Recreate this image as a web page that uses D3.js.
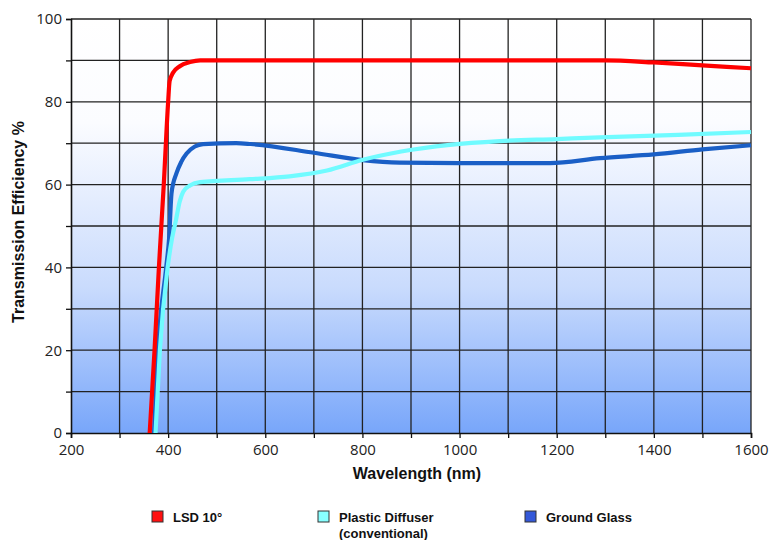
<!DOCTYPE html>
<html>
<head>
<meta charset="utf-8">
<script src="https://cdn.jsdelivr.net/npm/d3@7"></script>
<style>
  body { margin: 0; background: #fff; }
  .tick text { font-family: "Open Sans", sans-serif; font-size: 15px; fill: #222; }
  .axisTitle { font-family: "Liberation Sans", Arial, sans-serif; font-weight: bold; font-size: 16px; fill: #111; }
  .legendText { font-family: "Liberation Sans", Arial, sans-serif; font-weight: bold; font-size: 13px; fill: #111; }
</style>
</head>
<body>
<svg id="chart" width="782" height="540"></svg>
<script>

// wavelength (nm) / efficiency (%)
const lsdX = [362, 372, 381, 391, 400, 403, 410, 424, 445, 466, 500, 800, 1100, 1300, 1400, 1500, 1600]
const lsdY = [0, 20, 40, 60, 80, 85, 87, 88.6, 89.6, 90, 90, 90, 90, 90, 89.5, 88.8, 88.1]

const plasticX = [374, 383, 399, 408, 416, 424, 431, 445, 466, 568, 650, 727, 801, 880, 980, 1083, 1200, 1289, 1450, 1600]
const plasticY = [0, 20, 40, 47, 51.4, 56, 58.3, 59.8, 60.6, 61.3, 62, 63.4, 66, 68, 69.6, 70.5, 71, 71.4, 72, 72.7]

const groundX = [371, 379, 396, 402, 407, 417, 427, 438, 455, 472, 540, 570, 700, 800, 877, 1000, 1186, 1289, 1400, 1500, 1600]
const groundY = [0, 20, 40, 47, 58, 62.7, 65.5, 67.5, 69.2, 69.8, 70, 69.8, 67.7, 65.9, 65.3, 65.2, 65.2, 66.4, 67.3, 68.5, 69.5]

const xTicks = [200, 400, 600, 800, 1000, 1200, 1400, 1600]
const yTicks = [0, 20, 40, 60, 80, 100]

const series = [
  { name: "Ground Glass", xs: groundX, ys: groundY, color: "#1a5fc6" },
  { name: "Plastic Diffuser", xs: plasticX, ys: plasticY, color: "#70fbff" },
  { name: "LSD 10°", xs: lsdX, ys: lsdY, color: "#ff0000" }
]

const legendItems = [
  { label: ["LSD 10°"], fill: "#ff1010" },
  { label: ["Plastic Diffuser", "(conventional)"], fill: "#88ffff" },
  { label: ["Ground Glass"], fill: "#3458d8" }
]

const svg = d3.select("#chart")

const x = d3.scaleLinear().domain([200, 1600]).range([71, 751])
const y = d3.scaleLinear().domain([0, 100]).range([433, 19])

// background gradient
const grad = svg.append("defs")
  .append("linearGradient")
  .attr("id", "bg")
  .attr("x1", 0).attr("y1", 0).attr("x2", 0).attr("y2", 1)

grad.append("stop").attr("offset", "0").attr("stop-color", "#ffffff")
grad.append("stop").attr("offset", "0.25").attr("stop-color", "#fbfcff")
grad.append("stop").attr("offset", "0.65").attr("stop-color", "#c9dbfd")
grad.append("stop").attr("offset", "1").attr("stop-color", "#78a6fa")

svg.append("rect")
  .attr("x", x(200))
  .attr("y", y(100))
  .attr("width", x(1600) - x(200))
  .attr("height", y(0) - y(100))
  .attr("fill", "url(#bg)")

// grid
const grid = svg.append("g")

grid.selectAll(".vline")
  .data(d3.range(300, 1601, 100))
  .join("line")
  .attr("x1", d => x(d)).attr("x2", d => x(d))
  .attr("y1", y(100)).attr("y2", y(0))
  .attr("stroke", "#222")
  .attr("stroke-width", 1.3)

grid.selectAll(".hline")
  .data(d3.range(10, 101, 10))
  .join("line")
  .attr("x1", x(200)).attr("x2", x(1600))
  .attr("y1", d => y(d)).attr("y2", d => y(d))
  .attr("stroke", "#222")
  .attr("stroke-width", 1.3)

// axes
const xAxis = svg.append("g")
  .attr("transform", `translate(0,${y(0)})`)
  .call(d3.axisBottom(x).tickValues(d3.range(200, 1601, 100)).tickSize(5).tickFormat(d => xTicks.includes(d) ? d : ""))

const yAxis = svg.append("g")
  .attr("transform", `translate(${x(200)},0)`)
  .call(d3.axisLeft(y).tickValues(d3.range(0, 101, 10)).tickSize(5).tickFormat(d => yTicks.includes(d) ? d : ""))

;[xAxis, yAxis].forEach(a => {
  a.select(".domain").attr("stroke", "#111").attr("stroke-width", 1.6)
  a.selectAll(".tick line").attr("stroke", "#111").attr("stroke-width", 1.3)
})

xAxis.selectAll(".tick text").attr("dy", "0.95em")
yAxis.selectAll(".tick text").attr("dx", "-1px")

// lines
const line = d3.line()
  .x(d => x(d[0]))
  .y(d => y(d[1]))
  .curve(d3.curveMonotoneX)

series.forEach(s => {
  svg.append("path")
    .datum(s.xs.map((v, i) => [v, s.ys[i]]))
    .attr("fill", "none")
    .attr("stroke", s.color)
    .attr("stroke-width", 4.2)
    .attr("stroke-linejoin", "round")
    .attr("d", line)
})

// titles
svg.append("text")
  .attr("class", "axisTitle")
  .attr("x", 417)
  .attr("y", 479)
  .attr("text-anchor", "middle")
  .text("Wavelength (nm)")

svg.append("text")
  .attr("class", "axisTitle")
  .attr("transform", "translate(24,222) rotate(-90)")
  .attr("text-anchor", "middle")
  .text("Transmission Efficiency %")

// legend
const legendX = [152, 318, 525]

legendItems.forEach((item, i) => {
  const g = svg.append("g").attr("transform", `translate(${legendX[i]},511)`)

  g.append("rect")
    .attr("width", 11)
    .attr("height", 11)
    .attr("fill", item.fill)
    .attr("stroke", "#333")
    .attr("stroke-width", 1)

  item.label.forEach((t, j) => {
    g.append("text")
      .attr("class", "legendText")
      .attr("x", 21)
      .attr("y", 11 + j * 16)
      .text(t)
  })
})

</script>
</body>
</html>
